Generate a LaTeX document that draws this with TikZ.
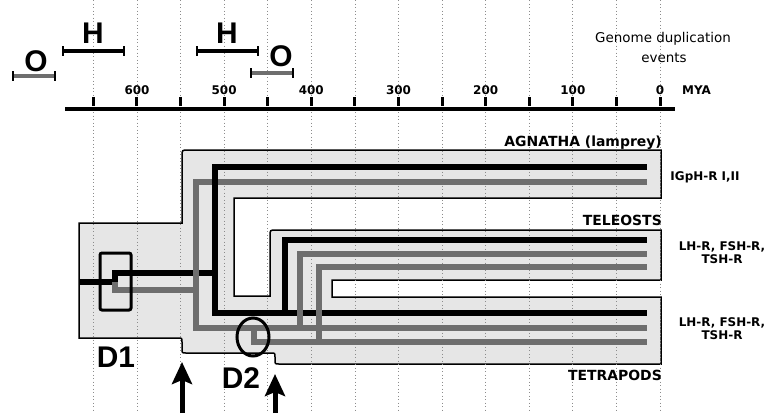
\documentclass[tikz,border=0pt]{standalone}
\usepackage{fontspec}
\setmainfont{DejaVu Sans}
\newfontfamily\bigfont{Liberation Sans}
\usetikzlibrary{arrows.meta, positioning}
\definecolor{Shade}{HTML}{E6E6E6}
\definecolor{Lineage}{HTML}{6E6E6E}
\definecolor{Grid}{HTML}{8C8C8C}
\tikzset{
    blackline/.style={line width=6bp, color=black},
    grayline/.style={line width=6bp, color=Lineage},
    gridline/.style={dash pattern=on 1bp off 2.5bp, color=Grid, line width=0.8bp},
    tickbar/.style={line width=3bp},
    bigletter/.style={anchor=base, inner sep=0pt, font=\bigfont\bfseries\fontsize{30}{30}\selectfont},
    scalelabel/.style={anchor=base, inner sep=0pt, font=\bfseries\fontsize{12}{12}\selectfont},
    groupname/.style={anchor=base east, inner sep=0pt, font=\bfseries\fontsize{14}{14}\selectfont},
    genename/.style={align=center, inner sep=0pt, font=\bfseries\fontsize{12}{13}\selectfont},
    uparrow/.style={-{Stealth[length=22bp, width=20bp, inset=4bp]}, line width=5bp},
}

\begin{document}
\begin{tikzpicture}[x=1bp, y=-1bp]
    \useasboundingbox (0,0) rectangle (770,413);

    % Zona grigia
    \draw[fill=Shade, line width=1.5bp]
        (79,223) -- (182,223) -- (182,156) .. controls (182,150) .. (188,150)
        -- (661,150) -- (661,198) -- (234,198)
        -- (234,296) -- (270,296) -- (270,236) .. controls (270,230) .. (276,230)
        -- (661,230) -- (661,280) -- (332,280)
        -- (332,297) -- (661,297) -- (661,364) -- (279,364) .. controls (275,364) .. (275,360)
        -- (275,357) .. controls (275,353) .. (271,353) -- (186,353) .. controls (182,353) .. (182,349)
        -- (182,342) .. controls (182,338) .. (178,338) -- (79,338) -- cycle;

    % Griglia e scala
    \foreach \t in {0,50,...,650} {
        \pgfmathsetmacro{\xx}{660-0.8717*\t}
        \draw[gridline] (\xx,0) -- (\xx,413);
        \draw[tickbar] (\xx,97) -- (\xx,106);
    }
    \foreach \t in {0,100,...,600} {
        \pgfmathsetmacro{\xx}{660-0.8717*\t}
        \node[scalelabel] (mya\t) at (\xx,94) {\t};
    }
    \draw[line width=4bp] (65,109) -- (675,109);
    \node[scalelabel, anchor=base west] (myaunit) at (682,94) {MYA};

    % Intervalli H e O
    \foreach \a/\b/\y/\c in {63/124/51/black, 197/258/51/black, 13/55/76/Lineage, 251/293/73/Lineage} {
        \draw[line width=4bp, \c] (\a,\y) -- (\b,\y);
        \draw[line width=2.5bp] (\a,\y-5) -- (\a,\y+5);
        \draw[line width=2.5bp] (\b,\y-5) -- (\b,\y+5);
    }
    \node[bigletter] (h1) at (93,43) {H};
    \node[bigletter] (h2) at (227,43) {H};
    \node[bigletter] (o1) at (36,71) {O};
    \node[bigletter] (o2) at (281,66) {O};

    \node[anchor=base, inner sep=0pt, font=\fontsize{13.5}{14}\selectfont] (genome) at (663,42.5) {Genome duplication};
    \node[anchor=base, inner sep=0pt, font=\fontsize{13.5}{14}\selectfont] (events) at (664,62) {events};

    % Linee
    \draw[blackline] (79,282) -- (115,282) -- (115,273) -- (215,273);
    \draw[grayline] (115,282) -- (115,290) -- (196,290);
    \draw[grayline] (647,182) -- (196,182) -- (196,328) -- (647,328);
    \draw[blackline] (647,167) -- (215,167) -- (215,313) -- (647,313);
    \draw[blackline] (285,313) -- (285,239.5) -- (647,239.5);
    \draw[grayline] (254,328) -- (254,342) -- (647,342);
    \draw[grayline] (300,328) -- (300,254) -- (647,254);
    \draw[grayline] (318.5,342) -- (318.5,267) -- (647,267);

    % D1 e D2
    \draw[line width=3bp, rounded corners=2bp] (100,253) rectangle (131,310);
    \draw[line width=3bp] (253,337) ellipse [x radius=16bp, y radius=19bp];
    \node[bigletter] (d1) at (116,367) {D1};
    \node[bigletter] (d2) at (241,388) {D2};

    % Frecce
    \coordinate (a1tail) at (182,413);
    \coordinate (a1tip) at (182,362);
    \coordinate (a2tail) at (275,413);
    \coordinate (a2tip) at (275,374);
    \draw[uparrow] (a1tail) -- (a1tip);
    \draw[uparrow] (a2tail) -- (a2tip);

    % Etichette
    \node[groupname] (agnatha) at (662,146) {AGNATHA (lamprey)};
    \node[groupname] (teleosts) at (662,225) {TELEOSTS};
    \node[groupname] (tetrapods) at (662,380) {TETRAPODS};
    \node[genename, anchor=base] (igph) at (705,180) {IGpH-R I,II};
    \node[genename] (telgenes) at (722,253) {LH-R, FSH-R,\\TSH-R};
    \node[genename] (tetgenes) at (722,329) {LH-R, FSH-R,\\TSH-R};
\end{tikzpicture}
\end{document}
